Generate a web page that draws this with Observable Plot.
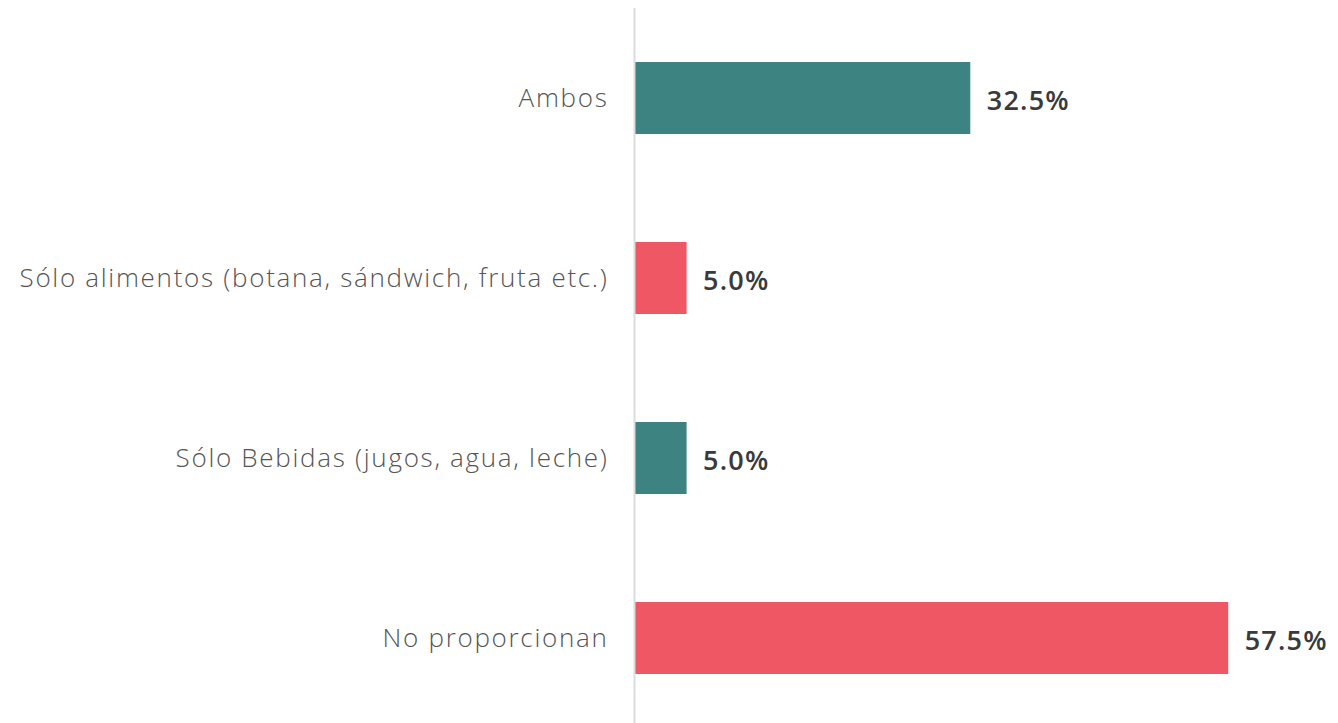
<!DOCTYPE html>
<html>
<head>
<meta charset="utf-8">
<script src="https://cdn.jsdelivr.net/npm/d3@7"></script>
<script src="https://cdn.jsdelivr.net/npm/@observablehq/plot@0.6"></script>
<style>
  html, body { margin: 0; padding: 0; background: #ffffff; }
  #chart { width: 1338px; height: 723px; }
  #chart g[aria-label="y-axis tick label"] text { letter-spacing: 1.7px; }
  #chart g[aria-label="text"] text { letter-spacing: 1.2px; }
</style>
</head>
<body>
<div id="chart"></div>
<script>
const categories = [
  "Ambos",
  "Sólo alimentos (botana, sándwich, fruta etc.)",
  "Sólo Bebidas (jugos, agua, leche)",
  "No proporcionan"
];
const values = [32.5, 5.0, 5.0, 57.5];
const barColors = ["#3d8381", "#f05764", "#3d8381", "#f05764"];

const data = categories.map((c, i) => ({category: c, value: values[i]}));

const chart = Plot.plot({
  width: 1338,
  height: 723,
  marginLeft: 635,
  marginRight: 84,
  marginTop: 8,
  marginBottom: 0,
  style: {fontFamily: "'Open Sans', Lato, sans-serif", background: "transparent"},
  x: {domain: [0, 60], axis: null},
  y: {domain: categories, range: [8, 727.4], paddingInner: 0.6, paddingOuter: 0.294, label: null},
  color: {domain: categories, range: barColors},
  marks: [
    Plot.barX(data, {x: "value", y: "category", fill: "category"}),
    Plot.ruleX([0], {stroke: "#dcdcdc", strokeWidth: 2, dx: -1}),
    Plot.axisY({tickSize: 0, tickPadding: 27, fontSize: 26, fontWeight: 300, color: "#555555", label: null}),
    Plot.text(data, {x: "value", y: "category", text: d => d.value.toFixed(1) + "%", textAnchor: "start", dx: 16, dy: 3, fontSize: 27, fontWeight: 600, fill: "#3a3a3a"})
  ]
});
document.getElementById("chart").append(chart);
</script>
</body>
</html>
